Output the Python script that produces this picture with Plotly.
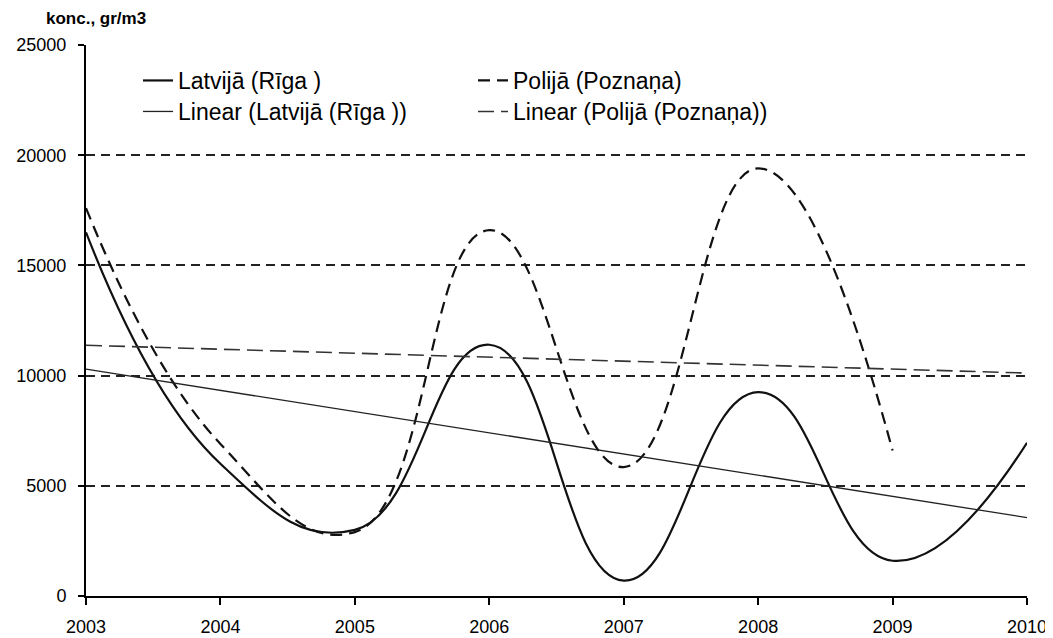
import numpy as np
import plotly.graph_objects as go

years_lv = [2003, 2004, 2005, 2006, 2007, 2008, 2009, 2010]
latvija = [16500, 6000, 3000, 11400, 700, 9250, 1600, 6950]
years_pl = [2003, 2004, 2005, 2006, 2007, 2008, 2009]
polija = [17600, 6900, 2900, 16600, 5850, 19400, 6600]
trend_x = [2003, 2010]
y_ticks = [0, 5000, 10000, 15000, 20000, 25000]
x_ticks = [2003, 2004, 2005, 2006, 2007, 2008, 2009, 2010]

# linear trend lines (least squares, as in the original's "Linear" trendlines)
k_lv, b_lv = np.polyfit(years_lv, latvija, 1)
k_pl, b_pl = np.polyfit(years_pl, polija, 1)
trend_lv = [k_lv * x + b_lv for x in trend_x]
trend_pl = [k_pl * x + b_pl for x in trend_x]

FONT = "Liberation Sans, Arial, sans-serif"
W, H = 1045, 630          # page body has an 8px margin
L, R, T, B = 78, 26, 37, 42
PW, PH = W - L - R, H - T - B

fig = go.Figure()
fig.add_trace(go.Scatter(x=years_lv, y=latvija, mode="lines", name="Latvijā (Rīga )",
                         legend="legend",
                         line=dict(color="#111111", width=2.2, shape="spline", smoothing=1.3)))
fig.add_trace(go.Scatter(x=years_pl, y=polija, mode="lines", name="Polijā (Poznaņa)",
                         legend="legend",
                         line=dict(color="#111111", width=2.2, shape="spline", smoothing=1.3,
                                   dash="12px,7px")))
fig.add_trace(go.Scatter(x=trend_x, y=trend_lv, mode="lines", name="Linear (Latvijā (Rīga ))",
                         legend="legend2",
                         line=dict(color="#222222", width=1.3)))
fig.add_trace(go.Scatter(x=trend_x, y=trend_pl, mode="lines", name="Linear (Polijā (Poznaņa))",
                         legend="legend2",
                         line=dict(color="#333333", width=1.6, dash="16px,7px")))

leg_common = dict(orientation="h", xanchor="left", yanchor="top",
                  entrywidth=290, entrywidthmode="pixels",
                  font=dict(size=23, family=FONT, color="black"),
                  bgcolor="rgba(0,0,0,0)")

fig.update_layout(
    width=W, height=H,
    margin=dict(l=L, r=R, t=T, b=B),
    paper_bgcolor="white", plot_bgcolor="white",
    font=dict(family=FONT, color="black", size=18),
    showlegend=True,
    legend=dict(x=(130 - L) / PW, y=1 - (51 - T) / PH, **leg_common),
    legend2=dict(x=(130 - L) / PW, y=1 - (82 - T) / PH, **leg_common),
    annotations=[dict(text="<b>konc., gr/m3</b>", x=(36 - L) / PW, y=1 + (T - 11) / PH,
                      xref="paper", yref="paper",
                      showarrow=False, font=dict(size=17, family=FONT),
                      xanchor="left", yanchor="middle")],
)

fig.update_xaxes(range=[2003, 2010], tickmode="array", tickvals=x_ticks,
                 ticktext=[str(v) for v in x_ticks], automargin=False,
                 showgrid=False, zeroline=False, showline=True, linecolor="black", linewidth=2,
                 ticks="outside", ticklen=7, tickwidth=1.5, tickcolor="black",
                 tickfont=dict(size=18, family=FONT), ticklabelstandoff=6)
fig.update_yaxes(range=[0, 25000], tickmode="array", tickvals=y_ticks,
                 ticktext=[str(v) for v in y_ticks], automargin=False,
                 showgrid=True, gridcolor="#222222", gridwidth=1.5, griddash="9px,6px",
                 zeroline=False, showline=True, linecolor="black", linewidth=2,
                 ticks="outside", ticklen=6, tickwidth=1.5, tickcolor="black",
                 tickfont=dict(size=18, family=FONT), ticklabelstandoff=8)

fig.write_html("out.html")
